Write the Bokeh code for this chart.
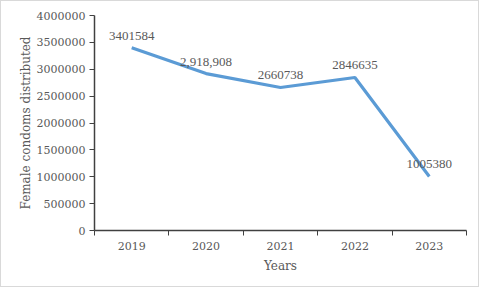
from bokeh.plotting import figure
from bokeh.models import Range1d, FixedTicker, BasicTickFormatter, ColumnDataSource, LabelSet
from bokeh.embed import file_html
from bokeh.resources import INLINE

years = ["2019", "2020", "2021", "2022", "2023"]
values = [3401584, 2918908, 2660738, 2846635, 1005380]
value_labels = ["3401584", "2,918,908", "2660738", "2846635", "1005380"]
y_ticks = [0, 500000, 1000000, 1500000, 2000000, 2500000, 3000000, 3500000, 4000000]

xs = list(range(1, len(years) + 1))
src = ColumnDataSource(dict(x=xs, y=values, lab=value_labels))

FONT = "DejaVu Serif"
GRAY = "#595959"

p = figure(width=479, height=287, output_backend="svg", toolbar_location=None,
           x_range=Range1d(0.5, len(years) + 0.5), y_range=Range1d(0, 4000000),
           min_border_left=93, min_border_right=14, min_border_top=14, min_border_bottom=58)
p.styles = {"border": "1px solid #d9d9d9"}
p.outline_line_color = None
p.xgrid.grid_line_color = None
p.ygrid.grid_line_color = None
p.background_fill_color = "white"
p.border_fill_color = "white"

p.line("x", "y", source=src, line_color="#5B9BD5", line_width=3.2)

labels = LabelSet(x="x", y="y", text="lab", source=src, x_offset=0, y_offset=8,
                  text_align="center", text_baseline="bottom",
                  text_font=FONT, text_font_size="13px", text_color=GRAY)
p.add_layout(labels)

xa = p.xaxis[0]
xa.ticker = FixedTicker(ticks=xs, minor_ticks=[i + 0.5 for i in range(0, len(years) + 1)])
xa.major_label_overrides = {x: y for x, y in zip(xs, years)}
xa.major_tick_line_color = None
xa.minor_tick_line_color = "#404040"
xa.minor_tick_out = 5
xa.minor_tick_in = 0
xa.axis_line_color = "#404040"
xa.axis_line_width = 1.5
xa.major_label_text_font = FONT
xa.major_label_text_font_size = "11px"
xa.major_label_text_color = GRAY
xa.major_label_standoff = 5
xa.axis_label = "Years"
xa.axis_label_text_font = FONT
xa.axis_label_text_font_style = "normal"
xa.axis_label_text_font_size = "12px"
xa.axis_label_text_color = GRAY
xa.axis_label_standoff = 6

ya = p.yaxis[0]
ya.ticker = FixedTicker(ticks=y_ticks)
ya.formatter = BasicTickFormatter(use_scientific=False)
ya.minor_tick_line_color = None
ya.major_tick_line_color = "#404040"
ya.major_tick_out = 5
ya.major_tick_in = 0
ya.axis_line_color = "#404040"
ya.axis_line_width = 1.5
ya.major_label_text_font = FONT
ya.major_label_text_font_size = "11px"
ya.major_label_text_color = GRAY
ya.major_label_standoff = 4
ya.axis_label = "Female condoms distributed"
ya.axis_label_text_font = FONT
ya.axis_label_text_font_style = "normal"
ya.axis_label_text_font_size = "12px"
ya.axis_label_text_color = GRAY
ya.axis_label_standoff = 1

open("out.html", "w").write(file_html(p, INLINE))
